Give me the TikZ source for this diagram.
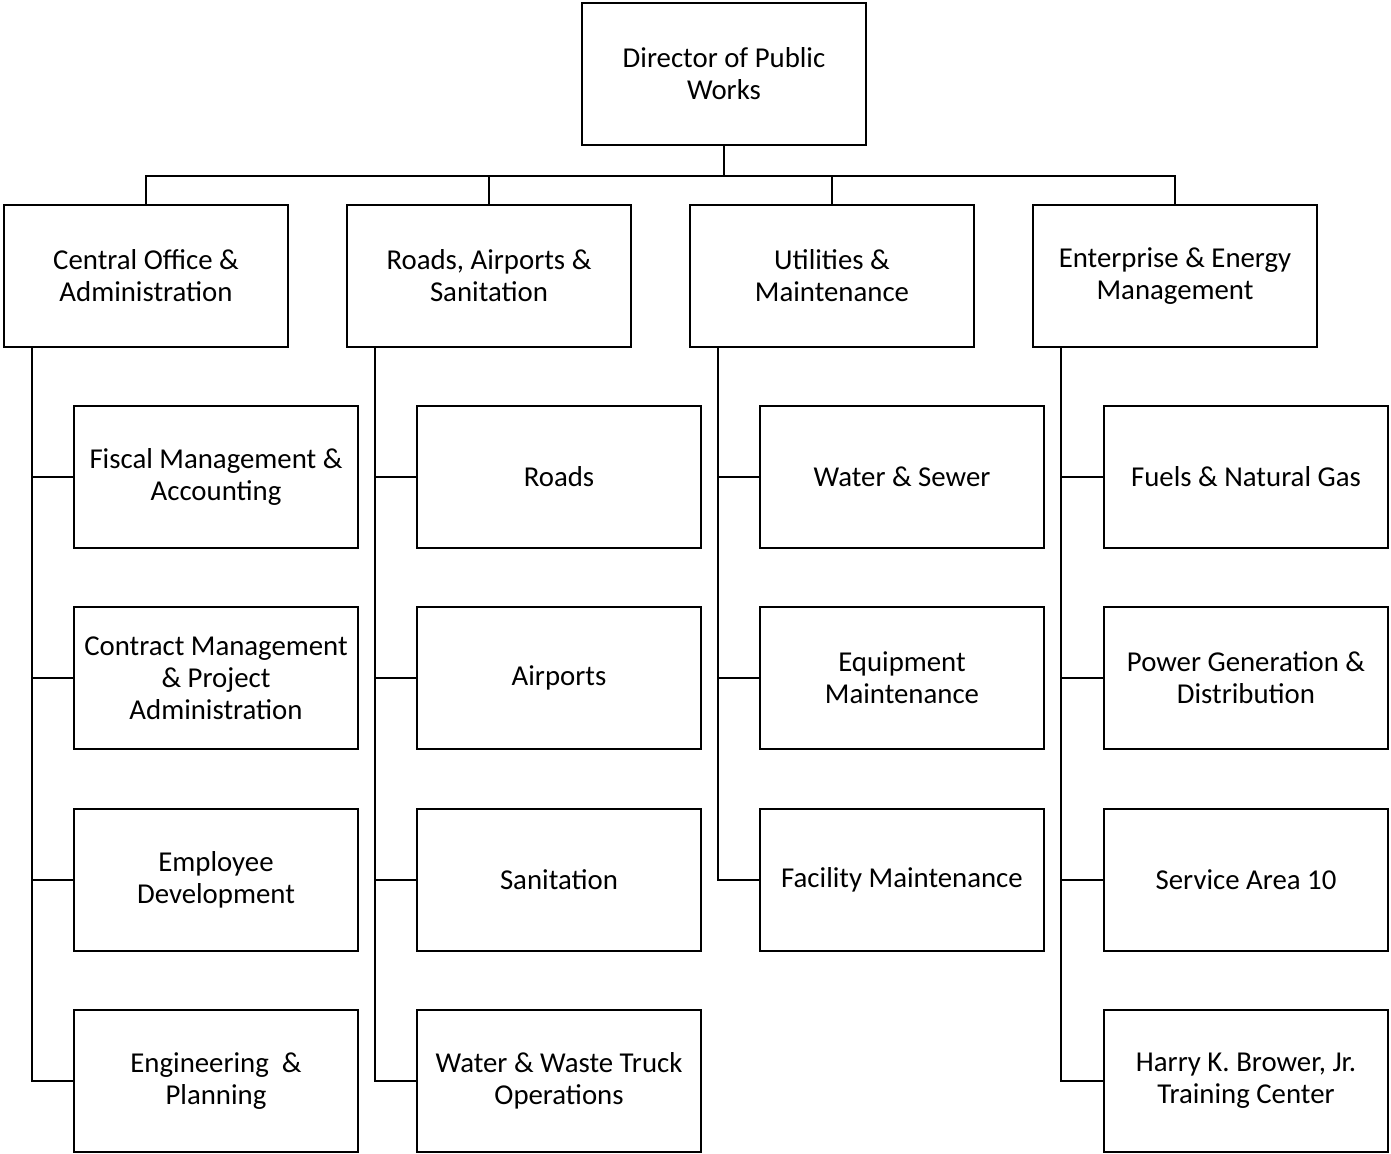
\documentclass[tikz,border=0pt]{standalone}
\usepackage{fontspec}
\setmainfont{Carlito}
\usetikzlibrary{positioning}
\begin{document}
\begin{tikzpicture}[x=0.5pt,y=-0.5pt,
    unit/.style={draw, line width=1pt, minimum width=142pt, minimum height=71pt,
        inner sep=1pt, align=center, font=\fontsize{14.4}{16}\selectfont},
    link/.style={line width=1pt}]
    \useasboundingbox (0,0) rectangle (1391,1154);

    % Director
    \node[unit] (dir) at (724,74) {Director of Public\\Works};

    % Divisions
    \node[unit] (cen) at (146,276) {Central Office \&\\Administration};
    \node[unit] (rds) at (489,276) {Roads, Airports \&\\Sanitation};
    \node[unit] (utl) at (832,276) {Utilities \&\\Maintenance};
    \node[unit] (ent) at (1175,276) {Enterprise \& Energy\\Management};

    % Central Office sections
    \node[unit] (fis) at (216,477) {Fiscal Management \&\\Accounting};
    \node[unit] (con) at (216,678) {Contract Management\\\& Project\\Administration};
    \node[unit] (emp) at (216,880) {Employee\\Development};
    \node[unit] (eng) at (216,1081) {Engineering~~\&\\Planning};

    % Roads, Airports and Sanitation sections
    \node[unit] (road) at (559,477) {Roads};
    \node[unit] (air) at (559,678) {Airports};
    \node[unit] (san) at (559,880) {Sanitation};
    \node[unit] (wwt) at (559,1081) {Water \& Waste Truck\\Operations};

    % Utilities sections
    \node[unit] (wsw) at (902,477) {Water \& Sewer};
    \node[unit] (eqm) at (902,678) {Equipment\\Maintenance};
    \node[unit] (fac) at (902,880) {Facility Maintenance};

    % Enterprise sections
    \node[unit] (fuel) at (1246,477) {Fuels \& Natural Gas};
    \node[unit] (pow) at (1246,678) {Power Generation \&\\Distribution};
    \node[unit] (sa) at (1246,880) {Service Area 10};
    \node[unit] (hkb) at (1246,1081) {Harry K. Brower, Jr.\\Training Center};

    % Director to divisions
    \coordinate (bus) at (724,176);
    \draw[link] (dir.south) -- (bus);
    \foreach \d in {cen,rds,utl,ent} {
        \draw[link] (bus) -| (\d.north);
    }

    % Divisions to sections
    \foreach \c in {fis,con,emp,eng} {
        \draw[link] ([xshift=14.5pt]cen.south west) |- (\c.west);
    }
    \foreach \c in {road,air,san,wwt} {
        \draw[link] ([xshift=14.5pt]rds.south west) |- (\c.west);
    }
    \foreach \c in {wsw,eqm,fac} {
        \draw[link] ([xshift=14.5pt]utl.south west) |- (\c.west);
    }
    \foreach \c in {fuel,pow,sa,hkb} {
        \draw[link] ([xshift=14.5pt]ent.south west) |- (\c.west);
    }
\end{tikzpicture}
\end{document}
